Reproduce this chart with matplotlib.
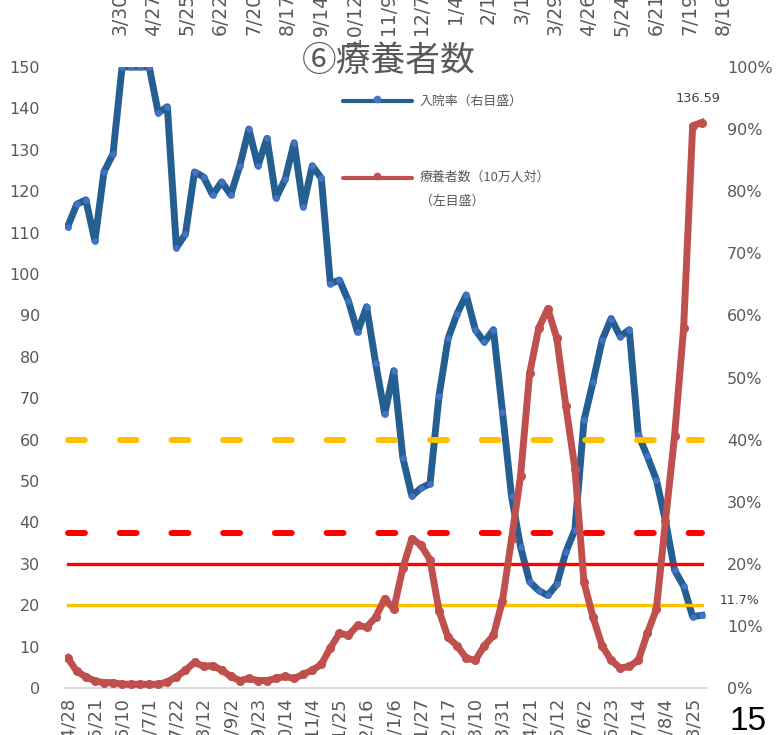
import numpy as np
import matplotlib
matplotlib.use("Agg")
import matplotlib.pyplot as plt
from matplotlib.lines import Line2D
from matplotlib.ticker import FuncFormatter

plt.rcParams['font.family'] = ['DejaVu Sans', 'Noto Sans CJK JP']

# 入院率 (%), right axis
rate = [74.3, 77.9, 78.6, 72.0, 83.1, 86.0, 100, 100, 100, 100,
        92.6, 93.6, 70.9, 73.1, 83.1, 82.3, 79.4, 81.5, 79.4, 84.1,
        90.0, 84.1, 88.5, 78.9, 81.9, 87.8, 77.5, 84.1, 82.1, 65.1,
        65.7, 62.3, 57.3, 61.4, 52.3, 44.1, 51.1, 37.1, 30.9, 32.2,
        32.9, 47.1, 56.3, 60.3, 63.3, 57.7, 55.7, 57.7, 44.5, 30.9,
        22.7, 17.1, 15.7, 14.9, 16.7, 21.9, 25.5, 43.1, 49.3, 56.0,
        59.5, 56.6, 57.7, 40.8, 37.3, 33.5, 26.9, 19.0, 16.4, 11.5,
        11.7]

# 療養者数 (10万人対), left axis
patients = [7.3, 4.0, 2.7, 1.7, 1.3, 1.3, 0.9, 0.9, 0.9, 0.9,
            0.9, 1.5, 2.7, 4.3, 6.2, 5.2, 5.4, 4.3, 2.8, 1.8,
            2.3, 1.8, 1.8, 2.3, 2.8, 2.3, 3.3, 4.3, 5.7, 9.7,
            13.2, 12.7, 15.1, 14.7, 17.1, 21.6, 19.1, 29.0, 36.1, 34.5,
            31.0, 18.6, 12.2, 10.2, 7.2, 6.7, 10.2, 12.7, 21.1, 35.9,
            51.3, 76.0, 86.9, 91.6, 84.5, 68.1, 53.0, 25.5, 17.1, 10.2,
            6.7, 4.8, 5.2, 6.7, 13.2, 19.1, 40.4, 60.9, 86.9, 135.8,
            136.59]

# stage thresholds
rate_stage3, rate_stage4 = 40, 25
patients_stage4, patients_stage3 = 30, 20

bottom_labels = ["2021/4/28", "2021/5/21", "2021/6/10", "2021/7/1", "2021/7/22",
                 "2021/8/12", "2021/9/2", "2021/9/23", "2021/10/14", "2021/11/4",
                 "2021/11/25", "2021/12/16", "2022/1/6", "2022/1/27", "2022/2/17",
                 "2022/3/10", "2022/3/31", "2022/4/21", "2022/5/12", "2022/6/2",
                 "2022/6/23", "2022/7/14", "2022/8/4", "2022/8/25"]
top_labels = ["3/30", "4/27", "5/25", "6/22", "7/20", "8/17", "9/14", "10/12",
              "11/9", "12/7", "1/4", "2/1", "3/1", "3/29", "4/26", "5/24",
              "6/21", "7/19", "8/16"]

gray = '#595959'
blue = '#255E91'
blue_m = '#4472C4'
red = '#C0504D'
yellow = '#FFC000'
pure_red = '#FF0000'
cjk = ['Noto Sans CJK JP', 'DejaVu Sans']

fig = plt.figure(figsize=(7.8, 7.35), dpi=100)
L, B = 65 / 780, 1 - 688 / 735
W, H = 641.7 / 780, (688 - 67) / 735

# top date axis (wider than plot so last label survives)
axt = fig.add_axes([L, B, 675 / 780, H])
axt.patch.set_visible(False)
for s in axt.spines.values():
    s.set_visible(False)
axt.set_yticks([])
axt.xaxis.tick_top()
axt.set_xticks(range(len(top_labels)))
axt.set_xticklabels(top_labels, rotation=90)
axt.set_xlim(-1.642, 18.507)
axt.tick_params(axis='x', length=0, pad=53, labelsize=13.5, colors=gray)
for t in axt.get_xticklabels():
    t.set_va('top')

# rate axis (right), drawn below
axr = fig.add_axes([L, B, W, H])
axl = axr.twinx()

x = np.arange(len(rate))
axr.plot(x, np.array(rate) / 100, color=blue, lw=5, marker='o', ms=3.8,
         mfc=blue_m, mec=blue_m, solid_joinstyle='round', zorder=2)
axr.plot(x, [rate_stage3 / 100] * len(x), color=yellow, lw=4.3,
         linestyle=(0, (2.83, 5.83)), dash_capstyle='round', zorder=3)
axr.plot(x, [rate_stage4 / 100] * len(x), color=pure_red, lw=4.3,
         linestyle=(0, (2.83, 5.83)), dash_capstyle='round', zorder=3)
axr.set_ylim(0, 1)
axr.set_xlim(-0.3, 70.55)
axr.yaxis.tick_right()
axr.set_yticks(np.arange(0, 1.01, 0.1))
axr.yaxis.set_major_formatter(FuncFormatter(lambda v, p: "%d%%" % round(v * 100)))
axr.tick_params(axis='y', length=0, pad=14.5, labelsize=11.5, colors=gray)
axr.set_xticks(x[::3])
axr.set_xticklabels(bottom_labels, rotation=90)
axr.tick_params(axis='x', length=0, pad=6.5, labelsize=13, colors=gray)
for k, s in axr.spines.items():
    s.set_visible(k == 'bottom')
axr.spines['bottom'].set_color('#D9D9D9')
axr.spines['bottom'].set_linewidth(1.3)

axl.plot(x, [patients_stage4] * len(x), color=pure_red, lw=2.4, zorder=1)
axl.plot(x, [patients_stage3] * len(x), color=yellow, lw=2.4, zorder=1)
axl.plot(x, patients, color=red, lw=5, marker='o', ms=5.5, mfc=red, mec=red,
         solid_joinstyle='round', zorder=3)
axl.set_ylim(0, 150)
axl.yaxis.tick_left()
axl.yaxis.set_label_position('left')
axl.set_yticks(range(0, 151, 10))
axl.tick_params(axis='y', length=0, pad=18, labelsize=11.5, colors=gray)
for s in axl.spines.values():
    s.set_visible(False)

# data labels
axl.annotate("%.2f" % patients[-1], (x[-1], patients[-1]), xytext=(-3, 17),
             textcoords='offset points', ha='center', va='center',
             fontsize=9.3, color='#404040', annotation_clip=False)
axr.annotate("%.1f%%" % rate[-1], (x[-1], rate[-1] / 100), xytext=(13, 10.5),
             textcoords='offset points', ha='left', va='center',
             fontsize=9, color='#404040', annotation_clip=False)

# title
fig.text(389 / 780, 1 - 62 / 735, "⑥療養者数", ha='center', va='center',
         fontsize=25, color=gray, family=cjk)

# legend
def fx(px):
    return px / 780

def fy(py):
    return 1 - py / 735

fig.add_artist(Line2D([fx(343), fx(411.7)], [fy(101), fy(101)], transform=fig.transFigure,
                      color=blue, lw=3, solid_capstyle='round'))
fig.add_artist(Line2D([fx(377)], [fy(99)], transform=fig.transFigure,
                      marker='o', ms=4.5, color=blue_m, lw=0))
fig.add_artist(Line2D([fx(343), fx(411.7)], [fy(177.5), fy(177.5)], transform=fig.transFigure,
                      color=red, lw=3, solid_capstyle='round'))
fig.add_artist(Line2D([fx(377)], [fy(176)], transform=fig.transFigure,
                      marker='o', ms=4.5, color=red, lw=0))
fig.text(fx(420), fy(101), "入院率（右目盛）", ha='left', va='center',
         fontsize=9.3, color=gray, family=cjk)
fig.text(fx(420), fy(177.5), "療養者数（10万人対）", ha='left', va='center',
         fontsize=9.3, color=gray, family=cjk)
fig.text(fx(420), fy(201.5), "（左目盛）", ha='left', va='center',
         fontsize=9.3, color=gray, family=cjk)

# page number
fig.text(fx(748), fy(706), "15", ha='center', va='top', fontsize=24,
         color='black', family=['Liberation Sans', 'DejaVu Sans'])

plt.savefig("out.png", dpi=100)
